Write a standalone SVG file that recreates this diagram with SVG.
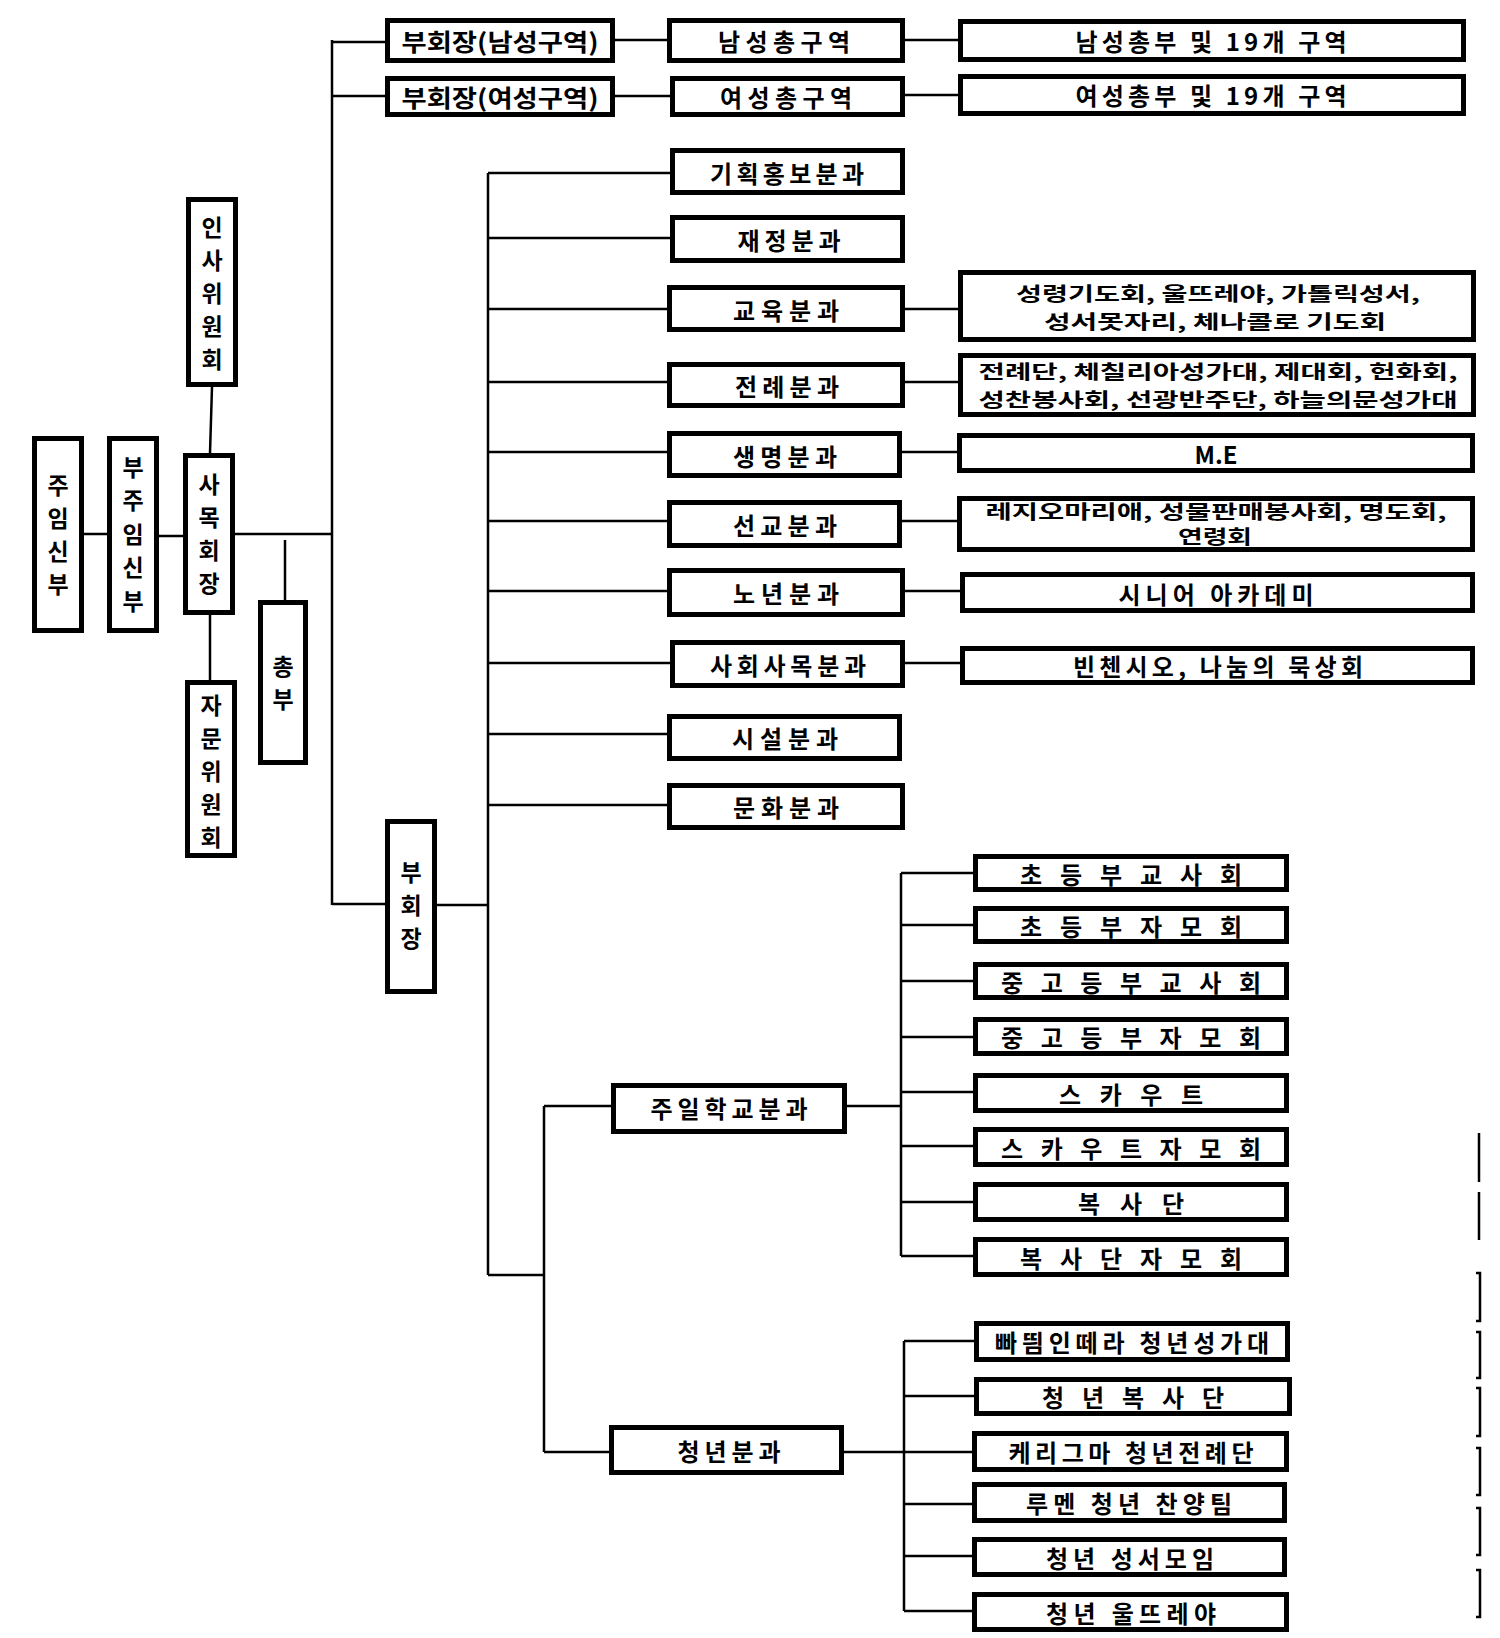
<svg xmlns="http://www.w3.org/2000/svg" width="1500" height="1638" viewBox="0 0 1500 1638">
<style>
.box{fill:#fff;stroke:#000;stroke-width:5}
.ln{stroke:#000;stroke-width:2.5;fill:none}
text{font-family:"Noto Sans CJK KR","Noto Sans",sans-serif;font-weight:700;font-size:24px;text-anchor:middle;dominant-baseline:central;fill:#000}
.v{font-size:23px}
.t2{font-size:19px}
</style>
<rect width="1500" height="1638" fill="#fff"/>
<g id="connectors" class="ln">
<path d="M84,534H107M159,536H183M235,534H332"/>
<path d="M212,387L210,453M210,615V680M285,540V600"/>
<path d="M332,40V905M332,42H385M332,96H385M332,904H385"/>
<path d="M615,40H667M905,40H958M615,96H670M905,95H958"/>
<path d="M437,905H488M488,173V1275"/>
<path d="M488,173H670M488,238H670M488,309H667M488,382H667M488,452H667M488,521H667M488,591H667M488,663H670M488,734H667M488,805H667"/>
<path d="M905,309H958M905,382H958M902,452H957M902,521H957M905,591H960M905,663H960"/>
<path d="M488,1275H544M544,1106V1452M544,1106H611M544,1452H609"/>
<path d="M847,1106H901M901,873V1256M901,873H973M901,925H973M901,981H973M901,1037H973M901,1092H973M901,1146H973M901,1202H973M901,1256H973"/>
<path d="M844,1452H904M904,1341V1611M904,1341H974M904,1396H974M904,1452H972M904,1504H972M904,1556H972M904,1611H972"/>
</g>
<g id="marks" class="ln">
<path d="M1479,1133V1182M1479,1192V1240"/>
<path d="M1476,1273H1480V1321H1476M1476,1332H1480V1378H1476M1476,1388H1480V1436H1476M1476,1448H1480V1495H1476M1476,1508H1480V1555H1476M1476,1570H1480V1617H1476"/>
</g>
<g id="n-juim"><rect class="box" x="34.5" y="438.5" width="47" height="192"/><text class="v" x="58" y="484">주</text><text class="v" x="58" y="517">임</text><text class="v" x="58" y="550">신</text><text class="v" x="58" y="583">부</text></g>
<g id="n-bujuim"><rect class="box" x="109.5" y="438.5" width="47" height="192"/><text class="v" x="133" y="466">부</text><text class="v" x="133" y="499">주</text><text class="v" x="133" y="533">임</text><text class="v" x="133" y="566">신</text><text class="v" x="133" y="600">부</text></g>
<g id="n-samok"><rect class="box" x="185.5" y="455.5" width="47" height="157"/><text class="v" x="209" y="483">사</text><text class="v" x="209" y="516">목</text><text class="v" x="209" y="549">회</text><text class="v" x="209" y="582">장</text></g>
<g id="n-insa"><rect class="box" x="188.5" y="199.5" width="47" height="185"/><text class="v" x="212" y="226">인</text><text class="v" x="212" y="259">사</text><text class="v" x="212" y="292">위</text><text class="v" x="212" y="325">원</text><text class="v" x="212" y="358">회</text></g>
<g id="n-jamun"><rect class="box" x="187.5" y="682.5" width="47" height="173"/><text class="v" x="211" y="704">자</text><text class="v" x="211" y="737">문</text><text class="v" x="211" y="770">위</text><text class="v" x="211" y="803">원</text><text class="v" x="211" y="836">회</text></g>
<g id="n-chongbu"><rect class="box" x="260.5" y="602.5" width="45" height="160"/><text class="v" x="283" y="665">총</text><text class="v" x="283" y="698">부</text></g>
<g id="n-buhoejang"><rect class="box" x="387.5" y="821.5" width="47" height="170"/><text class="v" x="411" y="871">부</text><text class="v" x="411" y="904">회</text><text class="v" x="411" y="937">장</text></g>
<g id="n-vp-m"><rect class="box" x="387.5" y="20.5" width="225" height="40"/><text x="500" y="40" textLength="197" lengthAdjust="spacingAndGlyphs">부회장(남성구역)</text></g>
<g id="n-vp-f"><rect class="box" x="387.5" y="78.5" width="225" height="36"/><text x="500" y="96" textLength="197" lengthAdjust="spacingAndGlyphs">부회장(여성구역)</text></g>
<g id="n-m-zone"><rect class="box" x="669.5" y="20.5" width="233" height="40"/><text x="784" y="40" textLength="132" lengthAdjust="spacing">남성총구역</text></g>
<g id="n-f-zone"><rect class="box" x="672.5" y="78.5" width="230" height="36"/><text x="786" y="96" textLength="132" lengthAdjust="spacing">여성총구역</text></g>
<g id="n-m-19"><rect class="box" x="960.5" y="21.5" width="503" height="38"/><text x="1211" y="40" textLength="271" lengthAdjust="spacing">남성총부 및 19개 구역</text></g>
<g id="n-f-19"><rect class="box" x="960.5" y="76.5" width="503" height="37"/><text x="1211" y="94" textLength="271" lengthAdjust="spacing">여성총부 및 19개 구역</text></g>
<g id="n-plan"><rect class="box" x="672.5" y="150.5" width="230" height="42"/><text x="787" y="172" textLength="154" lengthAdjust="spacing">기획홍보분과</text></g>
<g id="n-fin"><rect class="box" x="672.5" y="217.5" width="230" height="43"/><text x="789" y="239" textLength="103" lengthAdjust="spacing">재정분과</text></g>
<g id="n-edu"><rect class="box" x="669.5" y="287.5" width="233" height="42"/><text x="786" y="309" textLength="106" lengthAdjust="spacing">교육분과</text></g>
<g id="n-lit"><rect class="box" x="669.5" y="364.5" width="233" height="41"/><text x="787" y="385" textLength="104" lengthAdjust="spacing">전례분과</text></g>
<g id="n-life"><rect class="box" x="669.5" y="433.5" width="230" height="42"/><text x="785" y="455" textLength="104" lengthAdjust="spacing">생명분과</text></g>
<g id="n-mission"><rect class="box" x="669.5" y="502.5" width="230" height="43"/><text x="785" y="524" textLength="104" lengthAdjust="spacing">선교분과</text></g>
<g id="n-senior"><rect class="box" x="669.5" y="570.5" width="233" height="44"/><text x="786" y="592" textLength="106" lengthAdjust="spacing">노년분과</text></g>
<g id="n-social"><rect class="box" x="672.5" y="642.5" width="230" height="43"/><text x="788" y="664" textLength="156" lengthAdjust="spacing">사회사목분과</text></g>
<g id="n-facility"><rect class="box" x="669.5" y="716.5" width="230" height="42"/><text x="785" y="737" textLength="106" lengthAdjust="spacing">시설분과</text></g>
<g id="n-culture"><rect class="box" x="669.5" y="785.5" width="233" height="42"/><text x="786" y="806" textLength="106" lengthAdjust="spacing">문화분과</text></g>
<g id="n-edu-r"><rect class="box" x="960.5" y="272.5" width="513" height="67"/><text class="t2" x="1218" y="292" textLength="404" lengthAdjust="spacingAndGlyphs">성령기도회, 울뜨레야, 가톨릭성서,</text><text class="t2" x="1215" y="320" textLength="342" lengthAdjust="spacingAndGlyphs">성서못자리, 체나콜로 기도회</text></g>
<g id="n-lit-r"><rect class="box" x="960.5" y="355.5" width="513" height="59"/><text class="t2" x="1218" y="370" textLength="479" lengthAdjust="spacingAndGlyphs">전례단, 체칠리아성가대, 제대회, 헌화회,</text><text class="t2" x="1218" y="398" textLength="479" lengthAdjust="spacingAndGlyphs">성찬봉사회, 선광반주단, 하늘의문성가대</text></g>
<g id="n-me"><rect class="box" x="959.5" y="435.5" width="513" height="35"/><text x="1216" y="453" textLength="43" lengthAdjust="spacingAndGlyphs">M.E</text></g>
<g id="n-mission-r"><rect class="box" x="959.5" y="498.5" width="513" height="51"/><text class="t2" x="1216" y="510" textLength="461" lengthAdjust="spacingAndGlyphs">레지오마리애, 성물판매봉사회, 명도회,</text><text class="t2" x="1215" y="535" textLength="74" lengthAdjust="spacingAndGlyphs">연령회</text></g>
<g id="n-academy"><rect class="box" x="962.5" y="574.5" width="510" height="36"/><text x="1216" y="593" textLength="195" lengthAdjust="spacing">시니어 아카데미</text></g>
<g id="n-vincent"><rect class="box" x="962.5" y="648.5" width="510" height="34"/><text x="1218" y="665" textLength="290" lengthAdjust="spacing">빈첸시오, 나눔의 묵상회</text></g>
<g id="n-sunday"><rect class="box" x="613.5" y="1085.5" width="231" height="46"/><text x="729" y="1107" textLength="157" lengthAdjust="spacing">주일학교분과</text></g>
<g id="n-youth"><rect class="box" x="611.5" y="1427.5" width="230" height="45"/><text x="729" y="1450" textLength="103" lengthAdjust="spacing">청년분과</text></g>
<g id="n-s1"><rect class="box" x="975.5" y="856.5" width="311" height="33"/><text x="1131" y="873" textLength="222" lengthAdjust="spacing">초등부교사회</text></g>
<g id="n-s2"><rect class="box" x="975.5" y="908.5" width="311" height="33"/><text x="1131" y="925" textLength="222" lengthAdjust="spacing">초등부자모회</text></g>
<g id="n-s3"><rect class="box" x="975.5" y="964.5" width="311" height="33"/><text x="1131" y="981" textLength="260" lengthAdjust="spacing">중고등부교사회</text></g>
<g id="n-s4"><rect class="box" x="975.5" y="1019.5" width="311" height="34"/><text x="1131" y="1036" textLength="260" lengthAdjust="spacing">중고등부자모회</text></g>
<g id="n-s5"><rect class="box" x="975.5" y="1075.5" width="311" height="35"/><text x="1131" y="1093" textLength="144" lengthAdjust="spacing">스카우트</text></g>
<g id="n-s6"><rect class="box" x="975.5" y="1129.5" width="311" height="35"/><text x="1131" y="1147" textLength="260" lengthAdjust="spacing">스카우트자모회</text></g>
<g id="n-s7"><rect class="box" x="975.5" y="1184.5" width="311" height="35"/><text x="1131" y="1202" textLength="106" lengthAdjust="spacing">복사단</text></g>
<g id="n-s8"><rect class="box" x="975.5" y="1239.5" width="311" height="35"/><text x="1131" y="1257" textLength="222" lengthAdjust="spacing">복사단자모회</text></g>
<g id="n-y1"><rect class="box" x="976.5" y="1323.5" width="311" height="36"/><text x="1132" y="1341" textLength="274" lengthAdjust="spacing">빠띔인떼라 청년성가대</text></g>
<g id="n-y2"><rect class="box" x="976.5" y="1379.5" width="313" height="34"/><text x="1133" y="1396" textLength="182" lengthAdjust="spacing">청년복사단</text></g>
<g id="n-y3"><rect class="box" x="974.5" y="1433.5" width="312" height="36"/><text x="1131" y="1451" textLength="245" lengthAdjust="spacing">케리그마 청년전례단</text></g>
<g id="n-y4"><rect class="box" x="974.5" y="1484.5" width="310" height="36"/><text x="1129" y="1502" textLength="206" lengthAdjust="spacing">루멘 청년 찬양팀</text></g>
<g id="n-y5"><rect class="box" x="974.5" y="1539.5" width="310" height="35"/><text x="1130" y="1557" textLength="168" lengthAdjust="spacing">청년 성서모임</text></g>
<g id="n-y6"><rect class="box" x="974.5" y="1594.5" width="312" height="35"/><text x="1131" y="1612" textLength="170" lengthAdjust="spacing">청년 울뜨레야</text></g>
</svg>
